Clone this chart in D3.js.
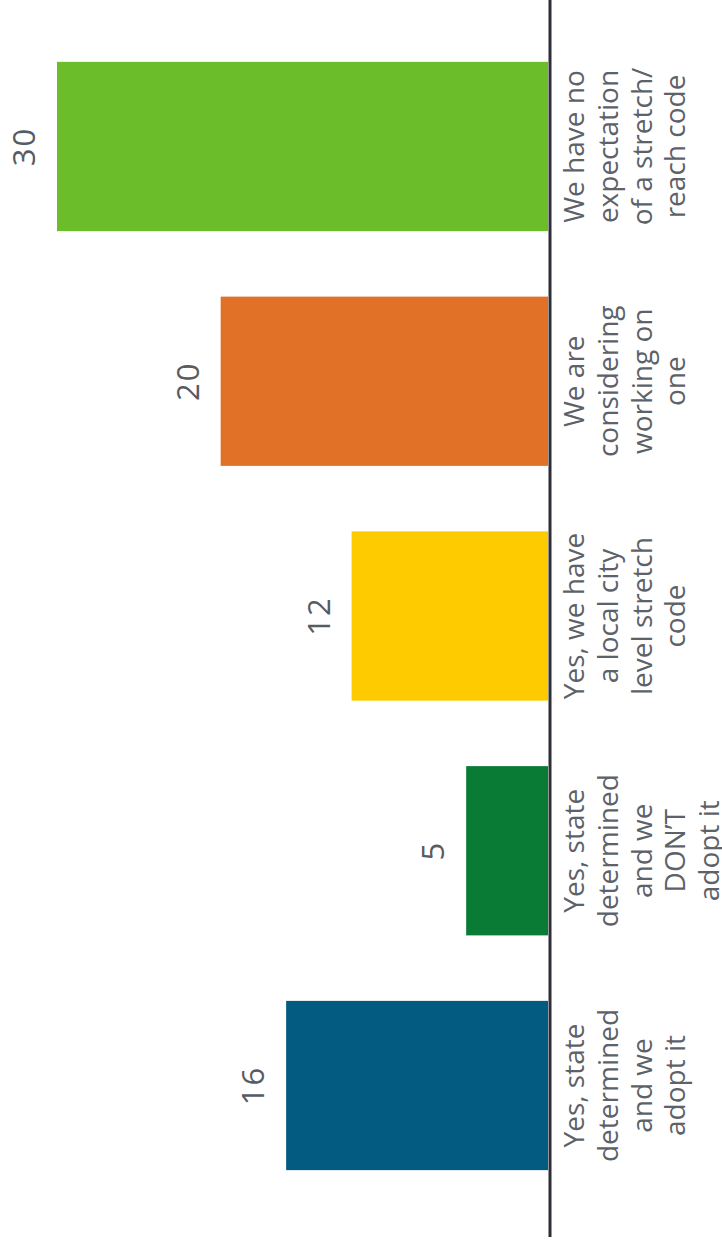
<!DOCTYPE html>
<html>
<head>
<meta charset="utf-8">
<script src="https://cdn.jsdelivr.net/npm/d3@7"></script>
<style>
  html, body { margin: 0; padding: 0; background: #ffffff; }
  svg { display: block; }
</style>
</head>
<body>
<svg id="chart" width="722" height="1247"></svg>
<script>
// Survey responses: does the city have a stretch / reach energy code?
const categories = [
  "Yes, state determined and we adopt it",
  "Yes, state determined and we DON'T adopt it",
  "Yes, we have a local city level stretch code",
  "We are considering working on one",
  "We have no expectation of a stretch/reach code"
];
const values = [16, 5, 12, 20, 30];
const labelLines = [
  ["Yes, state", "determined", "and we", "adopt it"],
  ["Yes, state", "determined", "and we", "DON\u2019T", "adopt it"],
  ["Yes, we have", "a local city", "level stretch", "code"],
  ["We are", "considering", "working on", "one"],
  ["We have no", "expectation", "of a stretch/", "reach code"]
];
const colors = ["#035b81", "#0a7b35", "#fdcb00", "#e07126", "#6bbd29"];

const svg = d3.select("#chart");

// Columns grow leftwards from the baseline; categories run bottom to top.
const baseX = 548;
const x = d3.scaleLinear().domain([0, 30]).range([baseX, 57]);
const y = d3.scaleBand()
  .domain(categories)
  .range([1203, 29])
  .paddingInner(0.279)
  .paddingOuter(0.14);

svg.append("g")
  .selectAll("rect")
  .data(categories)
  .join("rect")
  .attr("x", (d, i) => x(values[i]))
  .attr("y", d => y(d))
  .attr("width", (d, i) => x(0) - x(values[i]))
  .attr("height", y.bandwidth())
  .attr("fill", (d, i) => colors[i]);

// Value labels, rotated to read bottom-to-top
svg.append("g")
  .selectAll("text")
  .data(categories)
  .join("text")
  .attr("transform", (d, i) => `translate(${x(values[i]) - 22},${y(d) + y.bandwidth() / 2}) rotate(-90)`)
  .attr("text-anchor", "middle")
  .attr("font-family", "'Open Sans', sans-serif")
  .attr("font-size", 31)
  .attr("letter-spacing", 2)
  .attr("fill", "#575b62")
  .text((d, i) => values[i]);

// Category labels beside the baseline
const lineGap = 33.8;
svg.append("g")
  .selectAll("text")
  .data(categories)
  .join("text")
  .attr("transform", d => `translate(584,${y(d) + y.bandwidth() / 2}) rotate(-90)`)
  .attr("text-anchor", "middle")
  .attr("font-family", "'Open Sans', sans-serif")
  .attr("font-size", 28)
  .attr("fill", "#5d6168")
  .selectAll("tspan")
  .data((d, i) => labelLines[i])
  .join("tspan")
  .attr("x", 0)
  .attr("y", (d, j) => j * lineGap)
  .text(d => d);

// Baseline
svg.append("line")
  .attr("x1", 550).attr("x2", 550)
  .attr("y1", 0).attr("y2", 1237)
  .attr("stroke", "#2e2f36")
  .attr("stroke-width", 3);
</script>
</body>
</html>
